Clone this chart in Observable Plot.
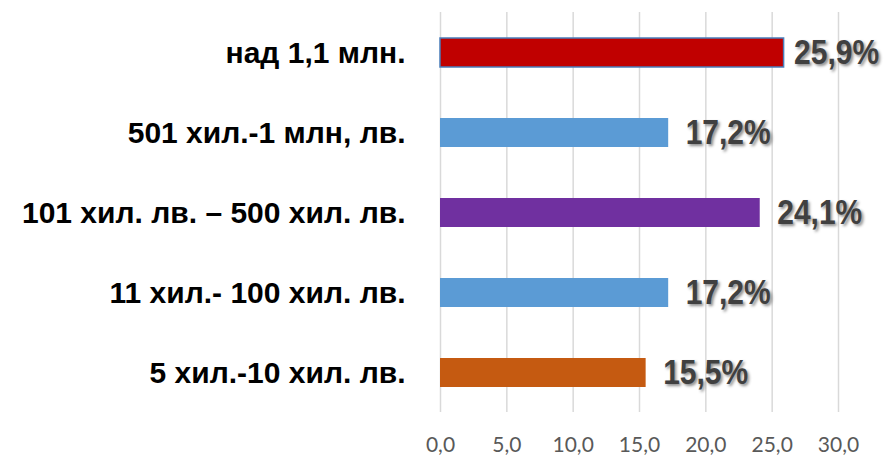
<!DOCTYPE html>
<html>
<head>
<meta charset="utf-8">
<script src="https://cdn.jsdelivr.net/npm/d3@7"></script>
<script src="https://cdn.jsdelivr.net/npm/@observablehq/plot@0.6"></script>
<style>
  html, body { margin: 0; padding: 0; background: #fff; }
  .val, .val text { text-shadow: 2px 2px 3px rgba(0,0,0,0.45); }
</style>
</head>
<body>
<div id="chart"></div>
<script>
const categories = [
  "над 1,1 млн.",
  "501 хил.-1 млн, лв.",
  "101 хил. лв. – 500 хил. лв.",
  "11 хил.- 100 хил. лв.",
  "5 хил.-10 хил. лв."
];
const values = [25.9, 17.2, 24.1, 17.2, 15.5];
const xTicks = [0, 5, 10, 15, 20, 25, 30];
const barColors = ["#C00000", "#5B9BD5", "#7030A0", "#5B9BD5", "#C55A11"];

const data = categories.map((c, i) => ({category: c, value: values[i]}));
const fmt = v => v.toFixed(1).replace(".", ",");

const sans = "'Liberation Sans', Arial, sans-serif";
const labelOpts = {
  x: "value", y: "category", text: d => fmt(d.value) + "%",
  textAnchor: "start", fontSize: 30, fontWeight: "bold",
  fontFamily: sans, fill: "#404040", className: "val"
};

const chart = Plot.plot({
  width: 885,
  height: 455,
  marginLeft: 440,
  marginRight: 47,
  marginTop: 12,
  marginBottom: 43,
  style: {background: "#fff"},
  x: {domain: [0, 30]},
  y: {domain: categories, paddingInner: 0.64, paddingOuter: 0.32},
  color: {domain: categories, range: barColors},
  marks: [
    Plot.gridX(xTicks, {stroke: "#D9D9D9", strokeOpacity: 1, strokeWidth: 1.5}),
    Plot.axisX(xTicks, {
      tickSize: 0, tickPadding: 25, tickFormat: fmt,
      fontSize: 21, fontFamily: "Lato, 'Open Sans', sans-serif", fill: "#595959", label: null
    }),
    Plot.axisY({
      tickSize: 0, tickPadding: 35, fontSize: 30, fontWeight: "bold",
      fontFamily: sans, fill: "#000", label: null
    }),
    Plot.barX(data, {x: "value", y: "category", fill: "category"}),
    Plot.barX(data.filter((d, i) => i === 0), {x: "value", y: "category", fill: "none", stroke: "#4A7EBB", strokeWidth: 1.5}),
    Plot.text(data.filter((d, i) => i === 0), {...labelOpts, dx: 10}),
    Plot.text(data.filter((d, i) => i > 0), {...labelOpts, dx: 17})
  ]
});
document.getElementById("chart").appendChild(chart);
// stretch the value labels vertically, like the tall narrow face of the original
chart.querySelectorAll(".val text, text.val").forEach(t => {
  const tr = t.getAttribute("transform");
  if (tr) {
    t.setAttribute("transform", tr + " scale(1,1.15)");
  } else {
    const x = +t.getAttribute("x") || 0, y = +t.getAttribute("y") || 0;
    t.setAttribute("x", 0); t.setAttribute("y", 0);
    t.setAttribute("transform", `translate(${x},${y}) scale(1,1.15)`);
  }
});
</script>
</body>
</html>
